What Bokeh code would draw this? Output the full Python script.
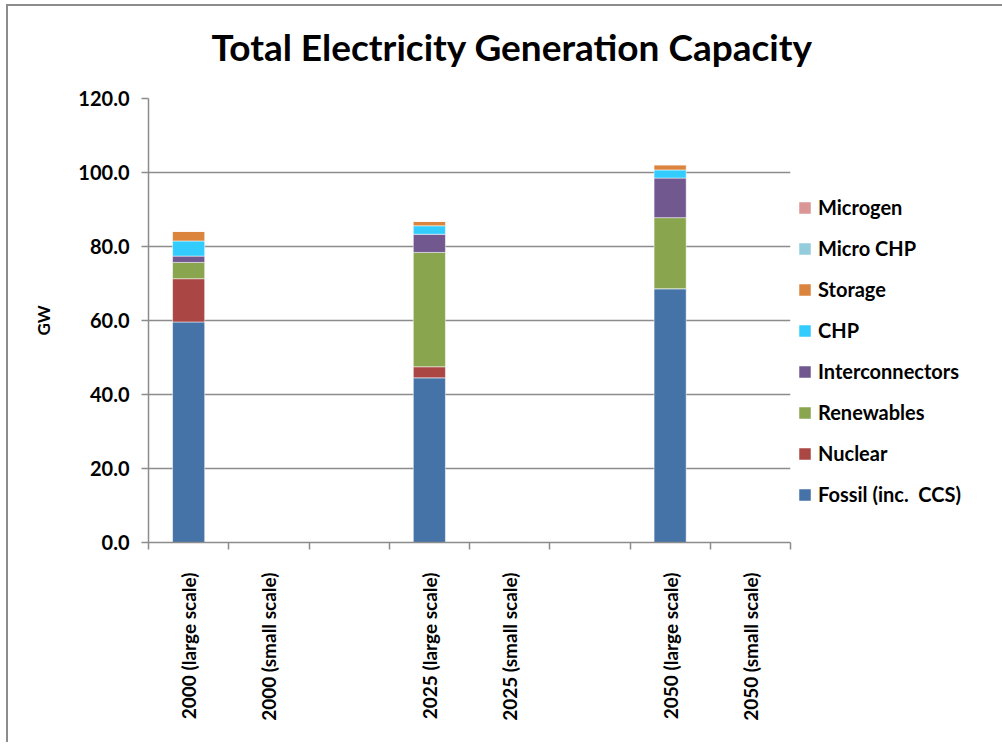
from math import pi
from bokeh.plotting import figure
from bokeh.models import (Range1d, FixedTicker, NumeralTickFormatter, Legend,
                          LegendItem, ColumnDataSource)
from bokeh.embed import file_html
from bokeh.resources import INLINE

# ---- data ----
categories = ["2000 (large scale)", "2000 (small scale)", "",
              "2025 (large scale)", "2025 (small scale)", "",
              "2050 (large scale)", "2050 (small scale)"]
fossil          = [59.6, 0.0, 0.0, 44.5, 0.0, 0.0, 68.6, 0.0]
nuclear         = [11.7, 0.0, 0.0,  3.0, 0.0, 0.0,  0.0, 0.0]
renewables      = [ 4.4, 0.0, 0.0, 30.9, 0.0, 0.0, 19.2, 0.0]
interconnectors = [ 1.7, 0.0, 0.0,  4.9, 0.0, 0.0, 10.7, 0.0]
chp             = [ 4.1, 0.0, 0.0,  2.3, 0.0, 0.0,  2.2, 0.0]
storage         = [ 2.6, 0.0, 0.0,  1.2, 0.0, 0.0,  1.4, 0.0]
micro_chp       = [ 0.0, 0.0, 0.0,  0.0, 0.2, 0.0,  0.0, 0.0]
microgen        = [ 0.0, 0.0, 0.0,  0.0, 0.0, 0.0,  0.0, 0.0]

series_names = ["Fossil (inc.  CCS)", "Nuclear", "Renewables", "Interconnectors",
                "CHP", "Storage", "Micro CHP", "Microgen"]
series_keys = ["fossil", "nuclear", "renewables", "interconnectors",
               "chp", "storage", "micro_chp", "microgen"]
colors = ["#4572A7", "#AA4643", "#89A54E", "#71588F",
          "#33CCFF", "#DB843D", "#93CDDD", "#D99694"]
y_ticks = [0, 20, 40, 60, 80, 100, 120]

FONT = "Lato"
GREY = "#8c8c8c"

xpos = [i + 0.5 for i in range(len(categories))]
source = ColumnDataSource(dict(
    x=xpos, fossil=fossil, nuclear=nuclear, renewables=renewables,
    interconnectors=interconnectors, chp=chp, storage=storage,
    micro_chp=micro_chp, microgen=microgen))

p = figure(frame_width=642, frame_height=444,
           min_border_left=140, min_border_right=206,
           min_border_top=92, min_border_bottom=200,
           x_range=Range1d(0, len(categories)), y_range=Range1d(0, 120),
           output_backend="svg", toolbar_location=None,
           title="Total Electricity Generation Capacity")

renderers = p.vbar_stack(series_keys, x="x", width=0.4, color=colors,
                         source=source, line_color="white", line_alpha=0.5,
                         line_width=1)

# title
p.title.text_font = FONT
p.title.text_font_size = "37px"
p.title.text_font_style = "bold"
p.title.text_color = "black"
p.title.align = "left"
p.title.vertical_align = "top"
p.title.offset = 63
p.title.standoff = 35
p.title.padding = (0, 0, 0, 10)

# y axis
p.yaxis.ticker = FixedTicker(ticks=y_ticks)
p.yaxis.formatter = NumeralTickFormatter(format="0.0")
p.yaxis.major_label_text_font = FONT
p.yaxis.major_label_text_font_size = "20px"
p.yaxis.major_label_text_font_style = "bold"
p.yaxis.major_label_text_color = "black"
p.yaxis.major_label_standoff = 12
p.yaxis.major_tick_out = 7
p.yaxis.major_tick_in = 0
p.yaxis.minor_tick_line_color = None
p.yaxis.axis_line_color = GREY
p.yaxis.major_tick_line_color = GREY
p.yaxis.axis_line_width = 1.5
p.yaxis.major_tick_line_width = 1.5
p.yaxis.axis_label = "GW"
p.yaxis.axis_label_text_font = FONT
p.yaxis.axis_label_text_font_size = "17px"
p.yaxis.axis_label_text_font_style = "bold"
p.yaxis.axis_label_text_color = "black"
p.yaxis.axis_label_standoff = 21

# x axis
p.xaxis.ticker = FixedTicker(ticks=xpos,
                             minor_ticks=list(range(len(categories) + 1)))
p.xaxis.major_label_overrides = {x: c for x, c in zip(xpos, categories)}
p.xaxis.major_label_orientation = pi / 2
p.xaxis.major_label_text_font = FONT
p.xaxis.major_label_text_font_size = "19px"
p.xaxis.major_label_text_font_style = "bold"
p.xaxis.major_label_text_color = "black"
p.xaxis.major_label_standoff = 23
p.xaxis.major_tick_out = 0
p.xaxis.major_tick_in = 0
p.xaxis.minor_tick_out = 7
p.xaxis.minor_tick_in = 0
p.xaxis.minor_tick_line_color = GREY
p.xaxis.minor_tick_line_width = 1.5
p.xaxis.axis_line_color = GREY
p.xaxis.axis_line_width = 1.5

# grid
p.xgrid.grid_line_color = None
p.ygrid.ticker = FixedTicker(ticks=y_ticks)
p.ygrid.grid_line_color = GREY
p.ygrid.grid_line_width = 1.5
p.outline_line_color = None

# legend (reverse order, top = last series)
items = [LegendItem(label=n, renderers=[r]) for n, r in zip(series_names, renderers)][::-1]
legend = Legend(items=items, location=(7, 36))
legend.label_text_font = FONT
legend.label_text_font_size = "20px"
legend.label_text_font_style = "bold"
legend.label_text_color = "black"
legend.glyph_width = 15
legend.glyph_height = 15
legend.label_height = 21
legend.spacing = 17
legend.label_standoff = 6
legend.padding = 0
legend.margin = 0
legend.border_line_color = None
legend.background_fill_alpha = 0
p.add_layout(legend, "right")

p.styles = {"border-left": "2px solid #8c8c8c", "border-top": "2px solid #8c8c8c",
            "margin-left": "6px", "margin-top": "4px"}

open("out.html", "w").write(file_html(p, INLINE))
